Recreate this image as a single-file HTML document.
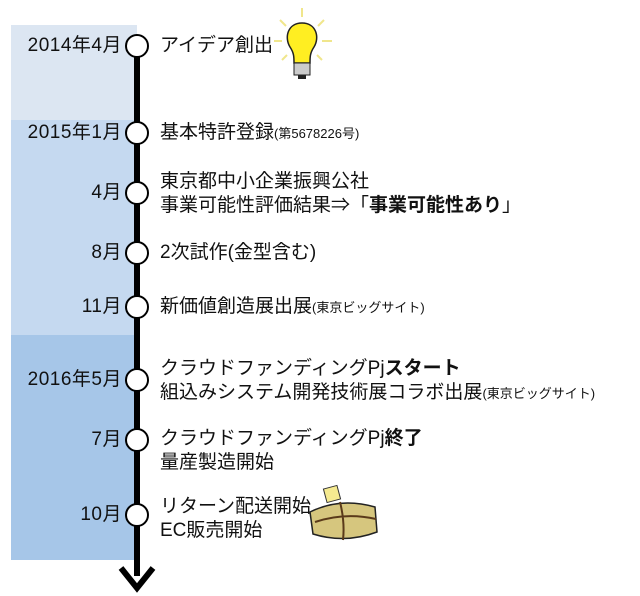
<!DOCTYPE html>
<html><head><meta charset="utf-8"><style>
body{margin:0;width:640px;height:596px;background:#fff;position:relative;overflow:hidden;font-family:"Liberation Sans","Noto Sans CJK JP",sans-serif;color:#111}
.b{position:absolute;left:11px;width:126px}
.d{position:absolute;right:518px;font-size:19px;letter-spacing:0.5px;white-space:nowrap;line-height:22px}
.t{position:absolute;left:160px;font-size:19px;white-space:nowrap;line-height:24px}
.s{font-size:13px}
.c{position:absolute;left:125px;width:20px;height:20px;border:2.5px solid #000;border-radius:50%;background:#fff}
</style></head><body>
<div class="b" style="top:25px;height:95px;background:#dce6f2"></div>
<div class="b" style="top:120px;height:215px;background:#c5d9f0"></div>
<div class="b" style="top:335px;height:225px;background:#a6c6e8"></div>
<div style="position:absolute;left:134px;top:46px;width:6px;height:530px;background:#000"></div>
<svg style="position:absolute;left:117px;top:560px" width="40" height="36"><polyline points="4,8 20,28 36,8" fill="none" stroke="#000" stroke-width="6"/></svg>
<div class="c" style="top:34px"></div><div class="c" style="top:121px"></div><div class="c" style="top:181px"></div><div class="c" style="top:241px"></div><div class="c" style="top:295px"></div><div class="c" style="top:368px"></div><div class="c" style="top:428px"></div><div class="c" style="top:503px"></div>
<div class="d" style="top:35px">2014年4月</div>
<div class="d" style="top:122px">2015年1月</div>
<div class="d" style="top:182px">4月</div>
<div class="d" style="top:242px">8月</div>
<div class="d" style="top:296px">11月</div>
<div class="d" style="top:369px">2016年5月</div>
<div class="d" style="top:429px">7月</div>
<div class="d" style="top:504px">10月</div>
<div class="t" style="top:34px">アイデア創出</div>
<div class="t" style="top:121px">基本特許登録<span class="s">(第5678226号)</span></div>
<div class="t" style="top:170px">東京都中小企業振興公社<br>事業可能性評価結果⇒「<b>事業可能性あり</b>」</div>
<div class="t" style="top:241px">2次試作(金型含む)</div>
<div class="t" style="top:295px">新価値創造展出展<span class="s">(東京ビッグサイト)</span></div>
<div class="t" style="top:357px">クラウドファンディングPj<b>スタート</b><br>組込みシステム開発技術展コラボ出展<span class="s">(東京ビッグサイト)</span></div>
<div class="t" style="top:427px">クラウドファンディングPj<b>終了</b><br>量産製造開始</div>
<div class="t" style="top:495px">リターン配送開始<br>EC販売開始</div>
<svg style="position:absolute;left:272px;top:5px" width="70" height="80">
<g stroke="#f0e68c" stroke-width="2"><line x1="30" y1="3" x2="30" y2="12"/><line x1="8" y1="15" x2="14" y2="21"/><line x1="52" y1="15" x2="46" y2="21"/><line x1="2" y1="36" x2="10" y2="36"/><line x1="50" y1="36" x2="60" y2="36"/><line x1="10" y1="55" x2="15" y2="50"/><line x1="50" y1="55" x2="45" y2="50"/></g>
<path d="M30 18 C16 18 12 32 18 42 C22 48 22 52 22 58 L38 58 C38 52 38 48 42 42 C48 32 44 18 30 18Z" fill="#ffee22" stroke="#222" stroke-width="1.5"/>
<rect x="22" y="58" width="16" height="12" fill="#ccc" stroke="#222"/><rect x="26" y="70" width="8" height="4" fill="#222"/></svg>
<svg style="position:absolute;left:305px;top:482px" width="80" height="70">
<rect x="20" y="5" width="14" height="14" fill="#f5ea90" stroke="#333" transform="rotate(-15 27 12)"/>
<path d="M5 30 Q35 15 70 25 L72 50 Q40 62 8 52Z" fill="#d6c67e" stroke="#222" stroke-width="1.5"/>
<path d="M10 40 Q40 30 71 37 M35 20 Q40 40 38 58" stroke="#5a3a1a" stroke-width="2" fill="none"/></svg>
</body></html>
